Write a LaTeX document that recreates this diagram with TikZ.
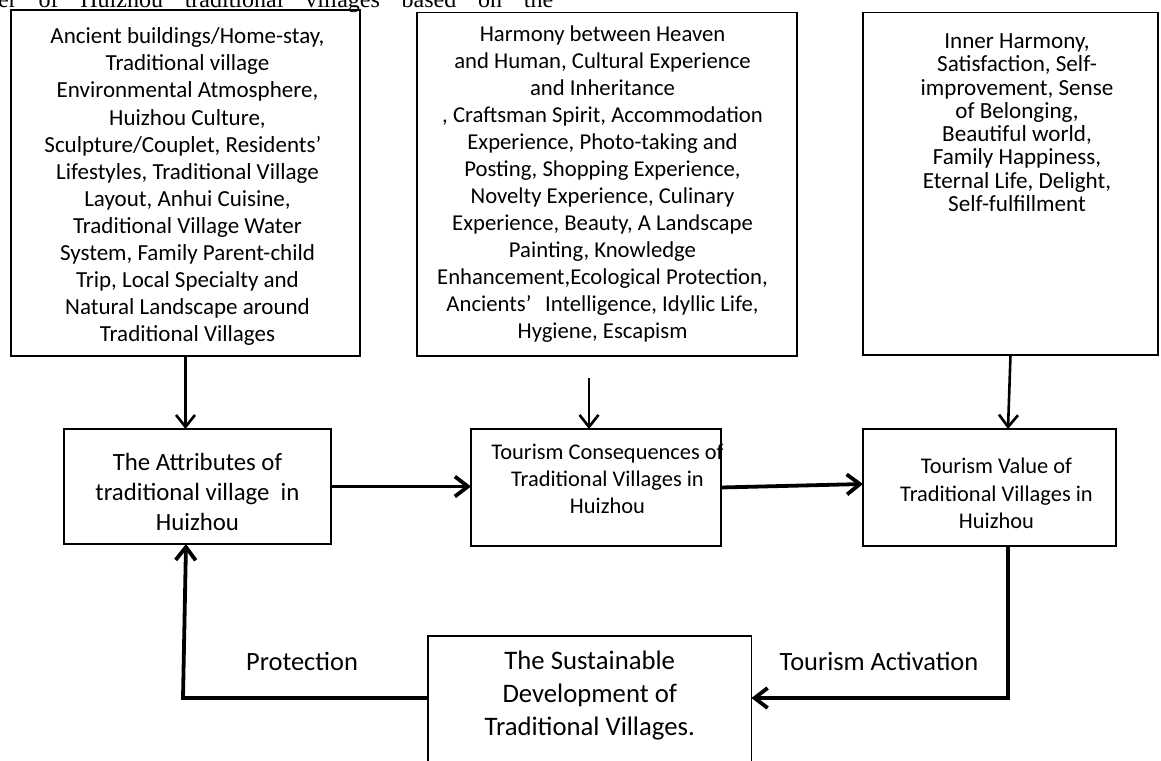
\documentclass[tikz,border=0pt]{standalone}
\usepackage{fontspec}
\setmainfont{Carlito}
\newfontfamily\tnr{Liberation Serif}
\usetikzlibrary{arrows.meta}
\newcommand\bx[7]{\parbox[c][#1pt][t]{#2pt}{\fontsize{#4pt}{#5pt}\selectfont\centering\leftskip=#6pt plus 1fil\relax\rightskip=-#6pt plus 1fil\relax\vspace*{#3pt}\rule{0pt}{20pt}#7}}
\begin{document}
\begin{tikzpicture}[x=1pt,y=-1pt,
  box/.style={draw,line width=1.8pt,inner sep=0pt,outer sep=0pt,rectangle},
  thinarr/.style={line width=2.6pt,-{Straight Barb[length=12pt,width=19pt]}},
  thickarr/.style={line width=3.8pt,-{Straight Barb[length=13pt,width=20pt]}},
  lab/.style={font=\fontsize{26.4pt}{32pt}\selectfont,inner sep=0pt}]
\useasboundingbox (0,0) rectangle (1161,760);

\node[anchor=base west,inner sep=0pt,font=\tnr\fontsize{24pt}{28pt}\selectfont] (ttl) at (-2,7.5)
  {\makebox[555pt][s]{er of Huizhou traditional villages based on the}};

\node[box] (top1) at (185.5,183) {\bx{346}{349}{13.7}{23}{27.1}{2}{%
Ancient buildings/Home-stay,\\
Traditional village\\
Environmental Atmosphere,\\
Huizhou Culture,\\
Sculpture/Couplet, Residents’\kern0.4em\\
Lifestyles, Traditional Village\\
Layout, Anhui Cuisine,\\
Traditional Village Water\\
System, Family Parent-child\\
Trip, Local Specialty and\\
Natural Landscape around\\
Traditional Villages}};

\node[box] (top2) at (607,184.25) {\bx{343.5}{380}{9.2}{22.7}{27}{-4.5}{%
Harmony between Heaven\\
and Human, Cultural Experience\\
and Inheritance\\
, Craftsman Spirit, Accommodation\\
Experience, Photo-taking and\\
Posting, Shopping Experience,\\
Novelty Experience, Culinary\\
Experience, Beauty, A Landscape\\
Painting, Knowledge\\
Enhancement,Ecological Protection,\\
Ancients’\kern0.6em Intelligence, Idyllic Life,\\
Hygiene, Escapism}};

\node[box] (top3) at (1010.5,183.75) {\bx{342.5}{295}{15.9}{23.1}{23.3}{6.5}{%
Inner Harmony,\\
Satisfaction, Self-\\
improvement, Sense\\
of Belonging,\\
Beautiful world,\\
Family Happiness,\\
Eternal Life, Delight,\\
Self-fulfillment}};

\node[box] (attr) at (197.5,486.5) {\bx{115}{267}{21.3}{24.8}{30}{0}{%
The Attributes of\\
traditional village\ \ in\\
Huizhou}};

\node[box] (cons) at (596,487.5) {\bx{117}{250}{10.7}{22.4}{27}{11.5}{%
Tourism Consequences of\\
Traditional Villages in\\
Huizhou}};

\node[box] (val) at (989.5,487.5) {\bx{117}{253}{24.7}{22.4}{27.5}{7}{%
Tourism Value of\\
Traditional Villages in\\
Huizhou}};

\node[box] (sust) at (589.75,716) {\bx{160}{323.5}{13}{26.7}{33}{0}{%
The Sustainable\\
Development of\\
Traditional Villages.}};

\node[lab] (lprot) at (302,661) {Protection};
\node[lab] (lact) at (879,661) {Tourism Activation};

\coordinate (c2) at (589,378);
\coordinate (lvl) at (0,698);
\coordinate (pb) at (183,698);
\coordinate (v3) at ([xshift=-2.5pt]top3.south);
\coordinate (cd) at ([xshift=18.5pt]val.south);
\coordinate (ad) at ([xshift=-11.5pt]attr.south);

\draw[thinarr] (top1.south) -- (top1.south |- attr.north);
\draw[thinarr] (c2) -- (c2 |- cons.north);
\draw[thinarr] (top3.south) -- (v3 |- val.north);
\draw[thickarr] (attr.east) -- (attr.east -| cons.west);
\draw[thickarr] (cons.east) -- ([yshift=3.5pt]val.west);
\draw[thickarr] (cd) |- (sust.east |- lvl);
\draw[thickarr] (sust.west |- lvl) -- (pb) -- (ad);
\end{tikzpicture}
\end{document}
